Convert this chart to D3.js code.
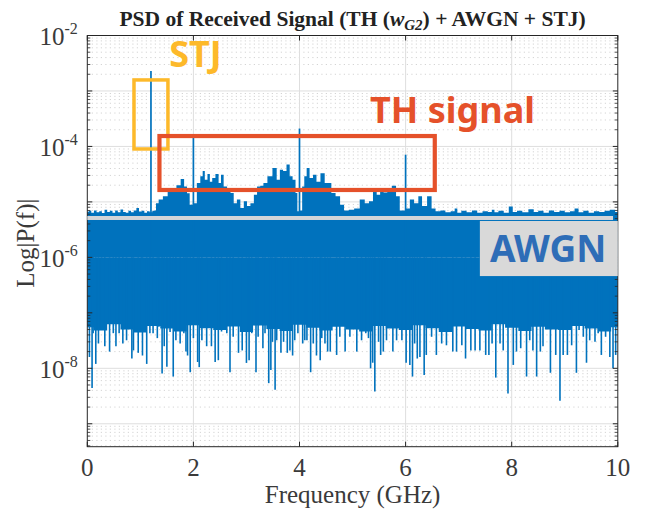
<!DOCTYPE html>
<html>
<head>
<meta charset="utf-8">
<script src="https://cdn.jsdelivr.net/npm/d3@7"></script>
<style>
  body { margin: 0; background: #fff; }
  svg text { font-family: "Liberation Serif", "Times New Roman", serif; }
</style>
</head>
<body>
<div class="container"></div>
<script>
'use strict'

/* ------------------------------------------------
   DATA
------------------------------------------------ */
var xTicks = [0, 2, 4, 6, 8, 10];
var yTickExp = [-2, -4, -6, -8];

// upper edge of the spectrum (noise floor + TH humps), GHz / |P(f)|
var topFreq = [0.00, 0.05, 0.10, 0.15, 0.20, 0.25, 0.30, 0.35, 0.40, 0.45, 0.50, 0.55, 0.60, 0.65, 0.70, 0.75, 0.80, 0.85, 0.90, 0.95,
  1.00, 1.05, 1.10, 1.15, 1.20, 1.25, 1.28, 1.31, 1.38, 1.47, 1.56, 1.64, 1.72, 1.80, 1.85, 1.91, 1.95, 2.03, 2.10, 2.16,
  2.19, 2.24, 2.29, 2.33, 2.38, 2.45, 2.50, 2.54, 2.60, 2.67, 2.73, 2.79, 2.85, 2.92, 2.98, 3.04, 3.11, 3.17, 3.23, 3.29,
  3.35, 3.44, 3.54, 3.60, 3.66, 3.72, 3.79, 3.84, 3.90, 3.95, 3.97, 4.03, 4.07, 4.11, 4.16, 4.22, 4.29, 4.35, 4.44, 4.51,
  4.57, 4.63, 4.73, 4.80, 4.88, 4.98, 5.08, 5.19, 5.27, 5.35, 5.42, 5.49, 5.55, 5.62, 5.69, 5.79, 5.85, 5.93, 6.05, 6.11,
  6.21, 6.27, 6.35, 6.46, 6.52, 6.61, 6.70, 6.80, 6.90, 6.95, 7.00, 7.10, 7.20, 7.30, 7.40, 7.50, 7.60, 7.65, 7.70, 7.80,
  7.90, 7.99, 8.05, 8.15, 8.25, 8.38, 8.45, 8.55, 8.65, 8.75, 8.85, 8.95, 9.05, 9.15, 9.22, 9.30, 9.40, 9.50, 9.60, 9.70,
  9.80, 9.90, 10.0];
var topVal = [6.6e-6, 6.9e-6, 6.4e-6, 7.0e-6, 6.5e-6, 6.8e-6, 6.3e-6, 7.2e-6, 6.6e-6, 6.9e-6, 6.4e-6, 7.0e-6, 6.5e-6, 7.3e-6, 6.6e-6, 6.4e-6, 6.9e-6, 6.5e-6, 7.0e-6, 7.8e-6,
  6.7e-6, 6.9e-6, 6.4e-6, 6.8e-6, 6.5e-6, 6.9e-6, 7.0e-6, 9.5e-6, 1.1e-5, 1.26e-5, 1.55e-5, 1.77e-5, 2.0e-5, 2.6e-5, 1.9e-5, 1.43e-5, 8.9e-6, 9.5e-6, 2.2e-5, 2.9e-5,
  3.6e-5, 2.5e-5, 3.2e-5, 2.3e-5, 2.7e-5, 3.2e-5, 2.2e-5, 3.1e-5, 1.9e-5, 1.55e-5, 1.45e-5, 9.5e-6, 1.1e-5, 7.8e-6, 1.03e-5, 8.4e-6, 9.5e-6, 1.35e-5, 1.9e-5, 1.96e-5,
  2.2e-5, 2.9e-5, 4.1e-5, 2.5e-5, 3.8e-5, 3.6e-5, 4.7e-5, 2.9e-5, 2.5e-5, 1.45e-5, 6.8e-6, 7.0e-6, 1.9e-5, 2.9e-5, 4.1e-5, 2.7e-5, 3.1e-5, 2.3e-5, 3.3e-5, 2.2e-5,
  2.2e-5, 1.45e-5, 1.26e-5, 8.9e-6, 7.0e-6, 7.2e-6, 7.6e-6, 1.1e-5, 9.5e-6, 1.03e-5, 1.55e-5, 1.35e-5, 1.55e-5, 1.47e-5, 1.55e-5, 1.96e-5, 1.26e-5, 7.0e-6, 7.6e-6, 1.1e-5,
  9.5e-6, 1.26e-5, 8.4e-6, 1.26e-5, 7.6e-6, 6.8e-6, 7.0e-6, 6.5e-6, 6.8e-6, 7.6e-6, 6.4e-6, 6.9e-6, 6.5e-6, 7.0e-6, 6.4e-6, 6.8e-6, 6.6e-6, 7.2e-6, 6.5e-6, 6.9e-6,
  6.4e-6, 8.3e-6, 6.6e-6, 6.9e-6, 6.5e-6, 7.4e-6, 6.6e-6, 6.9e-6, 6.4e-6, 7.0e-6, 6.6e-6, 6.9e-6, 6.5e-6, 6.8e-6, 7.6e-6, 6.5e-6, 6.9e-6, 6.4e-6, 6.8e-6, 6.6e-6,
  6.9e-6, 7.2e-6, 6.6e-6];

// lower edge of the solid noise band
var lowFreq = [0.00, 0.25, 0.50, 0.75, 1.00, 1.25, 1.50, 1.75, 2.00, 2.25, 2.50, 2.75, 3.00, 3.25, 3.50, 3.75, 4.00, 4.25, 4.50, 4.75,
  5.00, 5.25, 5.50, 5.75, 6.00, 6.25, 6.50, 6.75, 7.00, 7.25, 7.50, 7.75, 8.00, 8.25, 8.50, 8.75, 9.00, 9.25, 9.50, 9.75, 10.0];
var lowVal = [5.5e-8, 4.8e-8, 6.2e-8, 5.0e-8, 4.4e-8, 5.8e-8, 5.2e-8, 4.6e-8, 6.0e-8, 5.3e-8, 4.9e-8, 5.7e-8, 4.5e-8, 5.9e-8, 5.1e-8, 4.7e-8, 6.1e-8, 5.4e-8, 4.8e-8, 5.6e-8,
  5.0e-8, 4.6e-8, 5.8e-8, 5.2e-8, 4.9e-8, 6.0e-8, 5.3e-8, 4.5e-8, 5.7e-8, 5.1e-8, 4.8e-8, 6.2e-8, 5.4e-8, 4.7e-8, 5.6e-8, 5.0e-8, 4.9e-8, 5.8e-8, 5.2e-8, 4.6e-8, 5.5e-8];

// downward noise spikes
var dipFreq = [0.04, 0.09, 0.11, 0.16, 0.21, 0.27, 0.33, 0.42, 0.49, 0.54, 0.60, 0.67, 0.74, 0.84, 0.87, 0.96, 1.02, 1.04, 1.12, 1.18,
  1.24, 1.32, 1.35, 1.41, 1.45, 1.50, 1.56, 1.62, 1.67, 1.75, 1.82, 1.86, 1.89, 1.94, 2.00, 2.08, 2.11, 2.16, 2.25, 2.34,
  2.41, 2.47, 2.53, 2.63, 2.69, 2.75, 2.85, 2.92, 3.00, 3.05, 3.10, 3.18, 3.22, 3.31, 3.35, 3.42, 3.46, 3.49, 3.54, 3.57,
  3.65, 3.70, 3.77, 3.82, 3.87, 3.91, 3.97, 4.06, 4.10, 4.14, 4.21, 4.26, 4.32, 4.39, 4.42, 4.48, 4.53, 4.58, 4.70, 4.76,
  4.86, 4.95, 5.08, 5.17, 5.25, 5.30, 5.34, 5.38, 5.42, 5.49, 5.53, 5.58, 5.64, 5.76, 5.83, 5.93, 6.01, 6.08, 6.13, 6.17,
  6.22, 6.27, 6.35, 6.39, 6.49, 6.58, 6.68, 6.77, 6.89, 6.96, 7.06, 7.13, 7.23, 7.31, 7.40, 7.51, 7.57, 7.63, 7.70, 7.78,
  7.84, 7.93, 8.03, 8.09, 8.17, 8.28, 8.34, 8.40, 8.47, 8.54, 8.59, 8.73, 8.83, 8.91, 8.97, 9.05, 9.13, 9.22, 9.27, 9.35,
  9.41, 9.47, 9.57, 9.63, 9.69, 9.77, 9.85, 9.91, 9.96];
var dipVal = [1.6e-8, 4.4e-9, 4.3e-8, 1.2e-8, 2.8e-8, 5.0e-8, 2.5e-8, 2.0e-8, 4.3e-8, 2.5e-8, 4.3e-8, 2.8e-8, 3.2e-8, 1.5e-8, 2.1e-8, 1.9e-8, 5.0e-8, 1.7e-8, 1.2e-8, 4.3e-8,
  4.3e-8, 3.5e-8, 5.6e-8, 8.1e-9, 2.5e-8, 1.07e-8, 4.5e-8, 7.1e-9, 3.2e-8, 2.8e-8, 4.3e-8, 2.0e-8, 1.7e-8, 8.5e-9, 3.5e-8, 1.3e-8, 1.05e-8, 3.2e-8, 2.5e-8, 2.5e-8,
  1.3e-8, 1.4e-8, 4.6e-8, 4.3e-8, 8.5e-9, 3.7e-8, 1.9e-8, 2.1e-8, 1.25e-8, 1.4e-8, 4.3e-8, 8.5e-9, 3.7e-8, 2.3e-8, 4.3e-8, 5.4e-9, 9.3e-9, 3.0e-8, 4.1e-9, 3.2e-8,
  1.9e-8, 3.0e-8, 1.9e-8, 2.1e-8, 1.7e-8, 3.2e-8, 4.3e-8, 2.8e-8, 3.2e-8, 3.2e-8, 8.5e-9, 2.8e-8, 1.7e-8, 1.4e-8, 3.5e-8, 2.8e-8, 2.0e-8, 2.0e-8, 1.74e-8, 3.7e-8,
  2.0e-8, 3.7e-8, 2.0e-8, 3.2e-8, 4.3e-8, 3.5e-8, 1.0e-8, 1.26e-8, 3.8e-9, 3.0e-8, 1.74e-8, 2.0e-8, 3.2e-8, 2.0e-8, 3.2e-8, 3.2e-8, 1.26e-8, 1.15e-8, 7.1e-9, 2.8e-8,
  1.5e-8, 1.6e-8, 7.6e-9, 1.74e-8, 3.7e-8, 1.74e-8, 2.8e-8, 2.6e-8, 2.0e-8, 2.0e-8, 2.6e-8, 1.5e-8, 2.1e-8, 2.1e-8, 2.1e-8, 1.74e-8, 1.74e-8, 2.8e-8, 6.8e-9, 2.8e-8,
  2.1e-8, 3.5e-9, 1.15e-8, 2.0e-8, 2.3e-8, 7.1e-9, 3.2e-8, 2.1e-8, 7.1e-9, 2.0e-8, 2.5e-8, 8.3e-9, 1.74e-8, 2.6e-9, 1.74e-8, 1.74e-8, 2.6e-8, 8.3e-9, 4.9e-8, 3.7e-8,
  1.26e-8, 3.2e-8, 3.0e-8, 4.3e-8, 1.74e-8, 3.7e-8, 1.6e-8, 1.0e-8, 1.74e-8];

// single tones: STJ at 1.2 GHz, TH harmonics
var toneFreq = [1.2, 2, 4, 6];
var toneVal = [2.3e-3, 1.5e-4, 2.1e-4, 7.1e-5];

// mid level of the AWGN band (both edges are drawn from here)
var noiseMid = 1e-6;

// annotations, data units
var stjBox = [0.88, 1.52, 9.0e-5, 1.58e-3];
var thBox = [1.36, 6.55, 1.64e-5, 1.54e-4];
var stripBox = [0, 9.91, 4.72e-6, 5.57e-6];
var awgnBox = [7.40, 10, 4.6e-7, 4.53e-6];

var width = 651;
var height = 512;
var margin = {left: 87.3, right: 33.2, top: 35.5, bottom: 65.3};
var w = width - margin.left - margin.right;
var h = height - margin.top - margin.bottom;
var blue = '#0072BD';

/* ------------------------------------------------
   SCALES
------------------------------------------------ */
var xScale = d3.scaleLinear().domain([0, 10]).range([0, w]);
var yScale = d3.scaleLog().domain([3.86e-10, 1e-2]).range([h, 0]);

var svg = d3.select('.container')
  .append('svg')
  .attr('xmlns', 'http://www.w3.org/2000/svg')
  .attr('width', width)
  .attr('height', height);

var g = svg.append('g')
  .attr('transform', 'translate(' + margin.left + ',' + margin.top + ')');

/* ------------------------------------------------
   GRID
------------------------------------------------ */
var decades = d3.range(-9, -1).map(e => Math.pow(10, e));
var minors = [];
d3.range(-10, -2).forEach(function (e) {
  for (var k = 2; k <= 9; k++) {
    var v = k * Math.pow(10, e);
    if (v > yScale.domain()[0] && v < 1e-2) minors.push(v);
  }
});

g.append('g').selectAll('line')
  .data(minors).enter()
  .append('line')
  .attr('x1', 0).attr('x2', w)
  .attr('y1', d => yScale(d)).attr('y2', d => yScale(d))
  .style('stroke', '#c9c9c9')
  .style('stroke-dasharray', '1.2,3.3')
  .style('stroke-width', 0.8);

g.append('g').selectAll('line')
  .data(decades).enter()
  .append('line')
  .attr('x1', 0).attr('x2', w)
  .attr('y1', d => yScale(d)).attr('y2', d => yScale(d))
  .style('stroke', '#dedede')
  .style('stroke-width', 1);

g.append('g').selectAll('line')
  .data(xTicks.slice(1, -1)).enter()
  .append('line')
  .attr('x1', d => xScale(d)).attr('x2', d => xScale(d))
  .attr('y1', 0).attr('y2', h)
  .style('stroke', '#dedede')
  .style('stroke-width', 1);

/* ------------------------------------------------
   SPECTRUM
------------------------------------------------ */
var topData = topFreq.map((f, i) => ({f: f, v: topVal[i]}));
var lowData = lowFreq.map((f, i) => ({f: f, v: lowVal[i]}));

var areaTop = d3.area()
  .x(d => xScale(d.f))
  .y0(yScale(noiseMid))
  .y1(d => yScale(d.v))
  .curve(d3.curveStep);
var areaLow = d3.area()
  .x(d => xScale(d.f))
  .y0(yScale(noiseMid))
  .y1(d => yScale(d.v))
  .curve(d3.curveStep);

var spec = g.append('g').attr('class', 'lines');

spec.append('path')
  .attr('d', areaTop(topData))
  .style('fill', blue);
spec.append('path')
  .attr('d', areaLow(lowData))
  .style('fill', blue);

spec.selectAll('.dip')
  .data(dipFreq.map((f, i) => ({f: f, v: dipVal[i]}))).enter()
  .append('line')
  .attr('class', 'dip')
  .attr('x1', d => xScale(d.f)).attr('x2', d => xScale(d.f))
  .attr('y1', yScale(noiseMid)).attr('y2', d => yScale(d.v))
  .style('stroke', blue)
  .style('stroke-width', 1.6);

spec.selectAll('.tone')
  .data(toneFreq.map((f, i) => ({f: f, v: toneVal[i]}))).enter()
  .append('line')
  .attr('class', 'tone')
  .attr('x1', d => xScale(d.f)).attr('x2', d => xScale(d.f))
  .attr('y1', yScale(noiseMid)).attr('y2', d => yScale(d.v))
  .style('stroke', blue)
  .style('stroke-width', 1.7);

/* ------------------------------------------------
   AXES (matlab box, ticks inside)
------------------------------------------------ */
var axisCol = '#262626';
var ax = g.append('g').attr('class', 'axes');

ax.append('rect')
  .attr('width', w).attr('height', h)
  .style('fill', 'none')
  .style('stroke', axisCol)
  .style('stroke-width', 1);

ax.selectAll('.xt')
  .data(xTicks).enter()
  .append('path')
  .attr('class', 'xt')
  .attr('d', d => 'M' + xScale(d) + ',' + h + 'v-5M' + xScale(d) + ',0v5')
  .style('stroke', axisCol);

ax.selectAll('.yt')
  .data(decades).enter()
  .append('path')
  .attr('class', 'yt')
  .attr('d', d => 'M0,' + yScale(d) + 'h5M' + w + ',' + yScale(d) + 'h-5')
  .style('stroke', axisCol);

ax.selectAll('.ym')
  .data(minors).enter()
  .append('path')
  .attr('class', 'ym')
  .attr('d', d => 'M0,' + yScale(d) + 'h3M' + w + ',' + yScale(d) + 'h-3')
  .style('stroke', axisCol)
  .style('stroke-width', 0.8);

ax.selectAll('.xl')
  .data(xTicks).enter()
  .append('text')
  .attr('class', 'xl')
  .attr('x', d => xScale(d))
  .attr('y', h + 29.5)
  .attr('text-anchor', 'middle')
  .style('font-size', '25px')
  .style('fill', '#3a3a3a')
  .text(d => d);

var yl = ax.selectAll('.yl')
  .data(yTickExp).enter()
  .append('text')
  .attr('class', 'yl')
  .attr('x', -9.5)
  .attr('y', d => yScale(Math.pow(10, d)) + 9.5)
  .attr('text-anchor', 'end')
  .style('font-size', '25px')
  .style('fill', '#3a3a3a');
yl.append('tspan').text('10');
yl.append('tspan')
  .attr('dy', -11)
  .style('font-size', '16px')
  .text(d => '-' + Math.abs(d));

g.append('text')
  .attr('x', w / 2)
  .attr('y', h + 56)
  .attr('text-anchor', 'middle')
  .style('font-size', '25px')
  .style('fill', '#3a3a3a')
  .text('Frequency (GHz)');

g.append('text')
  .attr('transform', 'translate(' + (-53) + ',' + (h / 2 + 2) + ') rotate(-90)')
  .attr('text-anchor', 'middle')
  .style('font-size', '25px')
  .style('fill', '#3a3a3a')
  .text('Log|P(f)|');

var title = g.append('text')
  .attr('x', w / 2)
  .attr('y', -10)
  .attr('text-anchor', 'middle')
  .style('font-size', '21.5px')
  .style('font-weight', 'bold')
  .style('fill', '#222');
title.append('tspan').text('PSD of Received Signal (TH (');
title.append('tspan').style('font-style', 'italic').text('w');
title.append('tspan').attr('dy', 4).style('font-style', 'italic').style('font-size', '15px').text('G2');
title.append('tspan').attr('dy', -4).text(') + AWGN + STJ)');

/* ------------------------------------------------
   ANNOTATIONS
------------------------------------------------ */
var ann = g.append('g').attr('class', 'annotations');

ann.append('rect')
  .attr('x', xScale(stripBox[0])).attr('width', xScale(stripBox[1]) - xScale(stripBox[0]))
  .attr('y', yScale(stripBox[3])).attr('height', yScale(stripBox[2]) - yScale(stripBox[3]))
  .style('fill', '#d3d5d8');

ann.append('rect')
  .attr('x', xScale(awgnBox[0])).attr('width', xScale(awgnBox[1]) - xScale(awgnBox[0]))
  .attr('y', yScale(awgnBox[3])).attr('height', yScale(awgnBox[2]) - yScale(awgnBox[3]))
  .style('fill', '#d9d9d9');

ann.append('rect')
  .attr('x', xScale(stjBox[0])).attr('width', xScale(stjBox[1]) - xScale(stjBox[0]))
  .attr('y', yScale(stjBox[3])).attr('height', yScale(stjBox[2]) - yScale(stjBox[3]))
  .style('fill', 'none')
  .style('stroke', '#FDB92A')
  .style('stroke-width', 3.5);

ann.append('rect')
  .attr('x', xScale(thBox[0])).attr('width', xScale(thBox[1]) - xScale(thBox[0]))
  .attr('y', yScale(thBox[3])).attr('height', yScale(thBox[2]) - yScale(thBox[3]))
  .style('fill', 'none')
  .style('stroke', '#E5512A')
  .style('stroke-width', 4.2);

ann.append('text')
  .attr('x', xScale(1.545)).attr('y', yScale(2.74e-3))
  .style('font-family', '"Noto Sans", sans-serif')
  .style('font-weight', 'bold')
  .style('font-size', '36px')
  .style('fill', '#FDB92A')
  .text('STJ');

ann.append('text')
  .attr('x', xScale(5.33)).attr('y', yScale(2.65e-4))
  .style('font-family', '"Noto Sans", sans-serif')
  .style('font-weight', 'bold')
  .style('font-size', '36px')
  .style('fill', '#E5512A')
  .text('TH signal');

ann.append('text')
  .attr('x', xScale(7.59)).attr('y', yScale(8.35e-7))
  .style('font-family', '"Noto Sans", sans-serif')
  .style('font-weight', 'bold')
  .style('font-size', '37px')
  .style('fill', '#2E6DB7')
  .text('AWGN');
</script>
</body>
</html>
